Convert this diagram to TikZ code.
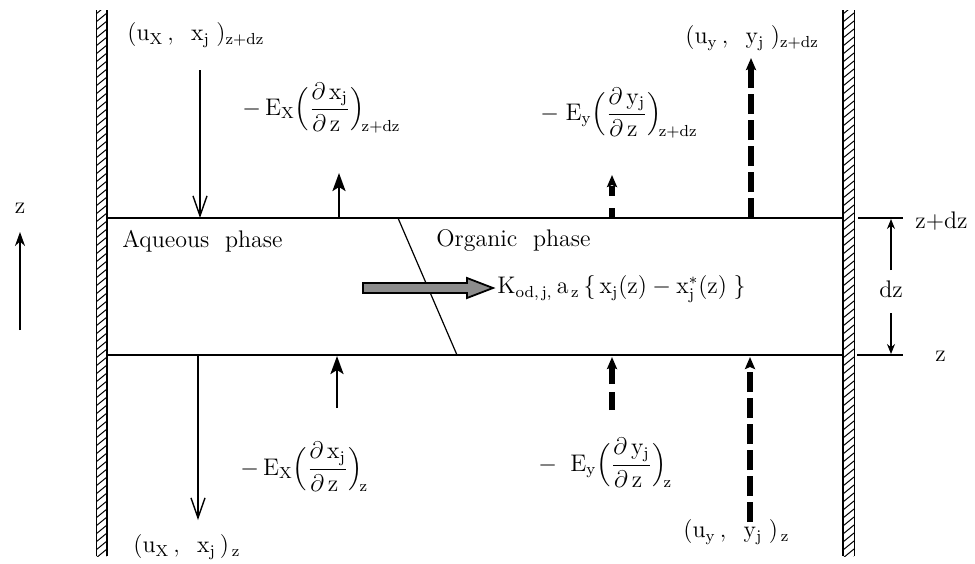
\documentclass[tikz,border=0pt]{standalone}
\usepackage{amsmath}
\usetikzlibrary{arrows.meta}
\begin{document}
\begin{tikzpicture}[x=0.5pt,y=-0.5pt,
  lbl/.style={inner sep=0pt,font=\fontsize{12}{14}\selectfont},
  hline/.style={line width=0.75pt},
  conv/.style={line width=1.4pt,-{Straight Barb[length=10pt,width=7pt,line width=0.7pt]}},
  disp/.style={line width=1.3pt,-{Stealth[length=9pt,width=6.5pt,inset=2pt]}},
  dconv/.style={line width=2.6pt,dash pattern=on 10pt off 3pt,-{Stealth[length=6pt,width=5pt,inset=1pt]}},
  dimarrow/.style={line width=0.6pt,-{Stealth[length=5pt,width=4pt]}}]
\useasboundingbox (0,0) rectangle (975,563);
% walls
\foreach \xa/\xb in {96/107,843/854}{
  \begin{scope}
    \clip (\xa,10) rectangle (\xb,556);
    \foreach \yy in {6,14,...,566}
      \draw[line width=0.5pt] (\xa,\yy) -- (\xb,\yy-9);
  \end{scope}
  \draw[line width=0.5pt] (\xa,10) -- (\xa,556);
  \draw[line width=0.5pt] (\xb,10) -- (\xb,556);
}
\draw[line width=1.1pt] (107,10) -- (107,556);
\draw[line width=1.1pt] (843,10) -- (843,556);
% horizontal boundaries
\coordinate (tl) at (107,218); \coordinate (tr) at (843,218);
\coordinate (bl) at (107,355); \coordinate (br) at (843,355);
\draw[hline] (tl) -- (tr);
\draw[hline] (bl) -- (br);
\coordinate (et1) at (858,218); \coordinate (et2) at (903,218);
\coordinate (eb1) at (857,355); \coordinate (eb2) at (903,355);
\draw[hline] (et1) -- (et2);
\draw[hline] (eb1) -- (eb2);
% interface
\coordinate (if1) at (398,218); \coordinate (if2) at (457,355);
\draw[line width=0.6pt] (if1) -- (if2);
% labels
\node[lbl,anchor=west] (uxtop) at (127,35) {$(\mathrm{u}_{\mathrm{X}}\,,\;\;\mathrm{x}_{\mathrm{j}}\;)_{\mathrm{z+dz}}$};
\node[lbl,anchor=west] (extop) at (242,108) {$-\,\mathrm{E}_{\mathrm{X}}\Bigl(\dfrac{\partial\,\mathrm{x}_{\mathrm{j}}}{\partial\,\mathrm{z}\;}\Bigr)_{\!\mathrm{z+dz}}$};
\node[lbl,anchor=west] (uytop) at (685,38) {$(\mathrm{u}_{\mathrm{y}}\,,\;\;\mathrm{y}_{\mathrm{j}}\;)_{\mathrm{z+dz}}$};
\node[lbl,anchor=west] (eytop) at (540,113) {$-\;\mathrm{E}_{\mathrm{y}}\Bigl(\dfrac{\partial\,\mathrm{y}_{\mathrm{j}}}{\partial\,\mathrm{z}\;}\Bigr)_{\!\mathrm{z+dz}}$};
\node[lbl,anchor=west] (aq) at (122,241) {Aqueous\ \ phase};
\node[lbl,anchor=west] (org) at (436,241) {Organic\ \ phase};
\node[lbl,anchor=west] (kl) at (497,289) {$\mathrm{K}_{\mathrm{od,\,j,}}\,\mathrm{a}_{\,\mathrm{z}}\,\{\,\mathrm{x}_{\mathrm{j}}(\mathrm{z})-\mathrm{x}_{\mathrm{j}}^{*}(\mathrm{z})\;\}$};
\node[lbl,anchor=west] (zdz) at (915,221) {z+dz};
\node[lbl,anchor=west] (zr) at (935,356) {z};
\node[lbl] (dz) at (891,289) {dz};
\node[lbl,anchor=west] (exbot) at (240,467) {$-\,\mathrm{E}_{\mathrm{X}}\Bigl(\dfrac{\partial\,\mathrm{x}_{\mathrm{j}}}{\partial\,\mathrm{z}\;}\Bigr)_{\!\mathrm{z}}$};
\node[lbl,anchor=west] (uxbot) at (133,547) {$(\mathrm{u}_{\mathrm{X}}\,,\;\;\mathrm{x}_{\mathrm{j}}\,)_{\,\mathrm{z}}$};
\node[lbl,anchor=west] (eybot) at (538,463) {$-\;\;\mathrm{E}_{\mathrm{y}}\Bigl(\dfrac{\partial\,\mathrm{y}_{\mathrm{j}}}{\partial\,\mathrm{z}\;}\Bigr)_{\!\mathrm{z}}$};
\node[lbl,anchor=west] (uybot) at (683,532) {$(\mathrm{u}_{\mathrm{y}}\,,\;\;\mathrm{y}_{\mathrm{j}}\;)_{\,\mathrm{z}}$};
\node[lbl] (zl) at (20,208) {z};
% z axis arrow
\coordinate (za1) at (20,330); \coordinate (za2) at (20,232);
\draw[line width=1.1pt,-{Stealth[length=7pt,width=5pt]}] (za1) -- (za2);
% dz dimension
\coordinate (d1) at (891,270); \coordinate (d2) at (891,219);
\coordinate (d3) at (891,313); \coordinate (d4) at (891,354);
\draw[dimarrow] (d1) -- (d2);
\draw[dimarrow] (d3) -- (d4);
% aqueous arrows
\coordinate (a1s) at (200,70); \coordinate (a1e) at (200,218);
\draw[conv] (a1s) -- (a1e);
\coordinate (a2s) at (339,218); \coordinate (a2e) at (339,173);
\draw[disp] (a2s) -- (a2e);
\coordinate (a3s) at (198,356); \coordinate (a3e) at (198,520);
\draw[conv] (a3s) -- (a3e);
\coordinate (a4s) at (337,408); \coordinate (a4e) at (337,356);
\draw[disp] (a4s) -- (a4e);
% organic arrows
\coordinate (o1s) at (612,218); \coordinate (o1e) at (612,175);
\draw[dconv,dash pattern=on 5pt off 6pt] (o1s) -- (o1e);
\coordinate (o2s) at (751,218); \coordinate (o2e) at (751,58);
\draw[dconv] (o2s) -- (o2e);
\coordinate (o3s) at (612,410); \coordinate (o3e) at (612,357);
\draw[dconv,dash pattern=on 9pt off 4pt] (o3s) -- (o3e);
\coordinate (o4s) at (750,522); \coordinate (o4e) at (750,357);
\draw[dconv] (o4s) -- (o4e);
% mass transfer arrow
\coordinate (ms) at (363,288);
\filldraw[fill=black!45,draw=black,line width=0.9pt]
  (ms) ++(0,-5) -- (467,283) -- (467,278) -- (493,288) -- (467,298) -- (467,293) -- (363,293) -- cycle;
\end{tikzpicture}
\end{document}
